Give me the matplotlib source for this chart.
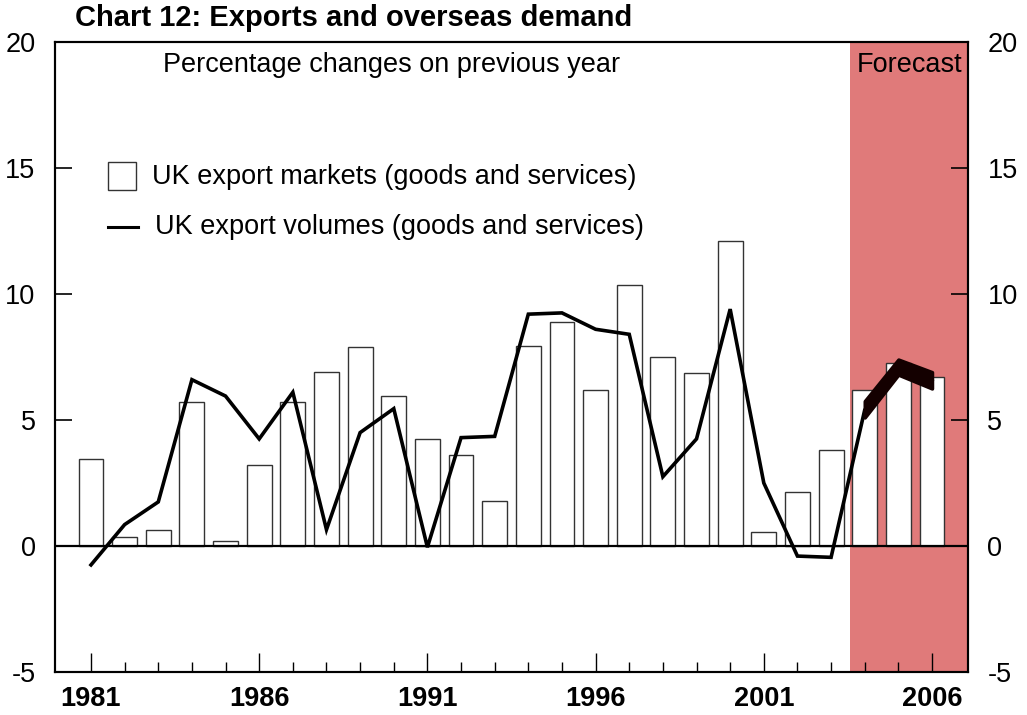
import matplotlib
matplotlib.use("Agg")
import matplotlib.pyplot as plt
from matplotlib.patches import Rectangle
from matplotlib.lines import Line2D
import numpy as np

plt.rcParams['font.family'] = ['Liberation Sans', 'DejaVu Sans']

years = list(range(1981, 2007))
markets = [3.45, 0.35, 0.65, 5.7, 0.2, 3.2, 5.7, 6.9, 7.9, 5.95, 4.25, 3.6, 1.8,
           7.95, 8.9, 6.2, 10.35, 7.5, 6.85, 12.1, 0.55, 2.15, 3.8, 6.2, 7.25, 6.7]
volumes = [-0.75, 0.85, 1.75, 6.6, 5.95, 4.25, 6.1, 0.65, 4.5, 5.45, -0.05, 4.3, 4.35,
           9.2, 9.25, 8.6, 8.4, 2.75, 4.25, 9.4, 2.5, -0.4, -0.45, 5.4, 7.1, 6.55]
fan_years = [2004, 2005, 2006]
fan_low = [5.1, 6.8, 6.25]
fan_high = [5.75, 7.4, 6.9]
forecast_start = 2003.55
yticks = [-5, 0, 5, 10, 15, 20]
xticks = [1981, 1986, 1991, 1996, 2001, 2006]

fig = plt.figure(figsize=(10.27, 7.15), dpi=100)
ax = fig.add_axes([55/1027, 43/715, 913/1027, 630/715])
xmin, xmax = 1979.93, 2007.07
ax.set_xlim(xmin, xmax)
ax.set_ylim(-5, 20)

ax.axvspan(forecast_start, xmax, color='#E07A7A', zorder=0, lw=0)
ax.bar(years, markets, width=0.74, facecolor='white', edgecolor='#333333', lw=1.0, zorder=2)
ax.axhline(0, color='black', lw=1.6, zorder=3)
ax.plot(years, volumes, color='black', lw=2.6, zorder=4, solid_joinstyle='miter')
ax.fill_between(fan_years, fan_low, fan_high, color='#140000', lw=2.5, edgecolor='#140000', zorder=5)

for s in ax.spines.values():
    s.set_linewidth(1.5)
ax.set_yticks(yticks)
ax.set_yticklabels([str(v) for v in yticks], fontsize=19.5)
ax.tick_params(axis='y', direction='in', length=12, width=1.2, pad=14)
ax.set_xticks(xticks)
ax.set_xticks(years, minor=True)
ax.set_xticklabels([str(v) for v in xticks], fontsize=19.5, fontweight='bold',
                   family=['Liberation Sans Narrow', 'Liberation Sans'])
ax.tick_params(axis='x', which='major', direction='in', length=14, width=1.0, pad=10)
ax.tick_params(axis='x', which='minor', direction='in', length=7, width=1.0)

ax2 = ax.twinx()
ax2.set_ylim(-5, 20)
ax2.set_yticks(yticks)
ax2.set_yticklabels([str(v) for v in yticks], fontsize=19.5)
ax2.tick_params(axis='y', direction='in', length=12, width=1.2, pad=14)
for s in ax2.spines.values():
    s.set_linewidth(1.5)

fig.text(75/1027, 1 - 18/715, 'Chart 12: Exports and overseas demand', fontsize=21,
         fontweight='bold', va='center', ha='left')
ax.text((163 - 55) / 913, (672 - 65) / 630, 'Percentage changes on previous year',
        transform=ax.transAxes, fontsize=19.5, va='center', ha='left')
ax.text((962 - 55) / 913, (672 - 65) / 630, 'Forecast', transform=ax.transAxes,
        fontsize=19.5, va='center', ha='right')

# legend
lx0 = (108 - 55) / 913
lx1 = (136 - 55) / 913
ax.add_patch(Rectangle((lx0, (672 - 190) / 630), lx1 - lx0, 28 / 630, transform=ax.transAxes,
                       facecolor='white', edgecolor='#333333', lw=1.0, zorder=6))
ax.text((152 - 55) / 913, (672 - 177) / 630, 'UK export markets (goods and services)',
        transform=ax.transAxes, fontsize=19.5, va='center', ha='left')
ax.add_line(Line2D([(108 - 55) / 913, (138 - 55) / 913], [(672 - 227) / 630] * 2,
                   transform=ax.transAxes, color='black', lw=2.2))
ax.text((155 - 55) / 913, (672 - 227) / 630, 'UK export volumes (goods and services)',
        transform=ax.transAxes, fontsize=19.5, va='center', ha='left')

fig.savefig('out.png', dpi=100)
